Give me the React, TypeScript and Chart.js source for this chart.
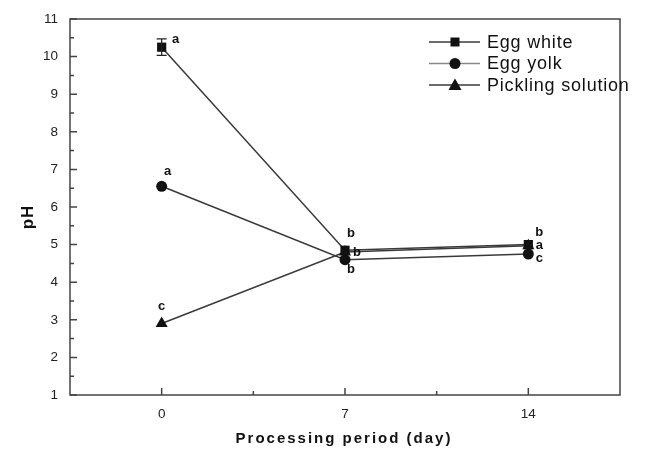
import React, { useEffect, useRef } from "react";
import { Chart, registerables } from "chart.js";

Chart.register(...registerables);

// ---- data ----
const days = [0, 7, 14];
const eggWhite = [10.25, 4.85, 5.0];
const eggWhiteErr = [0.22, 0, 0];
const eggYolk = [6.55, 4.6, 4.75];
const pickling = [2.9, 4.8, 4.97];
const eggWhiteLetters = ["a", "b", "b"];
const eggYolkLetters = ["a", "b", "c"];
const picklingLetters = ["c", "b", "a"];
const seriesNames = ["Egg white", "Egg yolk", "Pickling solution"];
const xTickValues = [0, 7, 14];
const xMinorTickValues = [3.5, 10.5];
const yTickValues = [1, 2, 3, 4, 5, 6, 7, 8, 9, 10, 11];
const yMinorTickValues = [1.5, 2.5, 3.5, 4.5, 5.5, 6.5, 7.5, 8.5, 9.5, 10.5];
const xTitle = "Processing period (day)";
const yTitle = "pH";

const LINE = "#3a3a3a";
const MARK = "#111111";
const FONT = "'Liberation Sans', Arial, sans-serif";

const styles = ["rect", "circle", "triangle"];
const radii = [6.5, 5.5, 7];

// label offsets [dx, dy] per series per point
const letterOffsets = [
  [[14, -8], [6, -17], [11, -12]],
  [[6, -15], [6, 10], [11, 4]],
  [[0, -17], [12, 0], [11, 0]],
];

const decorPlugin = {
  id: "decor",
  afterDatasetsDraw(chart: any) {
    const ctx = chart.ctx;
    const { left, right, top, bottom } = chart.chartArea;
    const xs = chart.scales.x;
    const ys = chart.scales.y;
    ctx.save();
    // frame
    ctx.strokeStyle = "#444";
    ctx.lineWidth = 1.5;
    ctx.strokeRect(left, top, right - left, bottom - top);
    // inward ticks
    ctx.lineWidth = 1.5;
    ctx.beginPath();
    xTickValues.forEach((v) => {
      const px = xs.getPixelForValue(v);
      ctx.moveTo(px, bottom);
      ctx.lineTo(px, bottom - 7);
    });
    xMinorTickValues.forEach((v) => {
      const px = xs.getPixelForValue(v);
      ctx.moveTo(px, bottom);
      ctx.lineTo(px, bottom - 4);
    });
    yTickValues.forEach((v) => {
      const py = ys.getPixelForValue(v);
      ctx.moveTo(left, py);
      ctx.lineTo(left + 7, py);
    });
    yMinorTickValues.forEach((v) => {
      const py = ys.getPixelForValue(v);
      ctx.moveTo(left, py);
      ctx.lineTo(left + 4, py);
    });
    ctx.stroke();

    // error bars
    ctx.strokeStyle = "#222";
    ctx.lineWidth = 1.2;
    ctx.beginPath();
    days.forEach((d, i) => {
      const e = eggWhiteErr[i];
      if (!e) return;
      const px = xs.getPixelForValue(d);
      const y1 = ys.getPixelForValue(eggWhite[i] + e);
      const y2 = ys.getPixelForValue(eggWhite[i] - e);
      ctx.moveTo(px, y1);
      ctx.lineTo(px, y2);
      ctx.moveTo(px - 5, y1);
      ctx.lineTo(px + 5, y1);
      ctx.moveTo(px - 5, y2);
      ctx.lineTo(px + 5, y2);
    });
    ctx.stroke();

    // letters
    const allVals = [eggWhite, eggYolk, pickling];
    const allLetters = [eggWhiteLetters, eggYolkLetters, picklingLetters];
    ctx.fillStyle = "#111";
    ctx.font = `bold 13px ${FONT}`;
    ctx.textAlign = "center";
    ctx.textBaseline = "middle";
    allVals.forEach((vals, s) => {
      vals.forEach((v, i) => {
        const px = xs.getPixelForValue(days[i]);
        const py = ys.getPixelForValue(v);
        const [dx, dy] = letterOffsets[s][i];
        ctx.fillText(allLetters[s][i], px + dx, py + dy);
      });
    });

    // legend
    const legY = [42, 63.5, 85];
    ctx.font = `18px ${FONT}`;
    (ctx as any).letterSpacing = "0.8px";
    ctx.textAlign = "left";
    seriesNames.forEach((name, i) => {
      const y = legY[i];
      ctx.strokeStyle = i === 1 ? "#888" : LINE;
      ctx.lineWidth = 1.5;
      ctx.beginPath();
      ctx.moveTo(429, y);
      ctx.lineTo(480, y);
      ctx.stroke();
      ctx.fillStyle = MARK;
      ctx.beginPath();
      if (i === 0) {
        ctx.rect(455 - 4.5, y - 4.5, 9, 9);
      } else if (i === 1) {
        ctx.arc(455, y, 5.5, 0, Math.PI * 2);
      } else {
        ctx.moveTo(455, y - 6.5);
        ctx.lineTo(455 + 6.5, y + 5);
        ctx.lineTo(455 - 6.5, y + 5);
        ctx.closePath();
      }
      ctx.fill();
      ctx.fillStyle = "#111";
      ctx.fillText(name, 487, y + 1);
    });

    // axis titles
    ctx.fillStyle = "#111";
    ctx.font = `bold 15px ${FONT}`;
    (ctx as any).letterSpacing = "2px";
    ctx.textAlign = "center";
    ctx.fillText(xTitle, (left + right) / 2 - 1, 439);
    ctx.save();
    ctx.translate(28, 217);
    ctx.rotate(-Math.PI / 2);
    ctx.font = `bold 17px ${FONT}`;
    (ctx as any).letterSpacing = "1px";
    ctx.fillText(yTitle, 0, 0);
    ctx.restore();
    ctx.restore();
  },
};

export default function App() {
  const ref = useRef<HTMLCanvasElement | null>(null);
  useEffect(() => {
    if (!ref.current) return;
    const vals = [eggWhite, eggYolk, pickling];
    const chart = new Chart(ref.current, {
      type: "line",
      data: {
        datasets: vals.map((v, s) => ({
          label: seriesNames[s],
          data: days.map((d, i) => ({ x: d, y: v[i] })),
          borderColor: LINE,
          borderWidth: 1.5,
          backgroundColor: MARK,
          pointBackgroundColor: MARK,
          pointBorderColor: MARK,
          pointBorderWidth: 0,
          pointStyle: styles[s] as any,
          pointRadius: radii[s],
          pointHoverRadius: radii[s],
          tension: 0,
          fill: false,
        })),
      },
      options: {
        animation: false,
        responsive: false,
        maintainAspectRatio: false,
        layout: { padding: { top: 19, right: 27, left: 0, bottom: 0 } },
        plugins: {
          legend: { display: false },
          tooltip: { enabled: false },
        },
        scales: {
          x: {
            type: "linear",
            min: -3.5,
            max: 17.5,
            grid: { display: false },
            border: { display: false },
            afterBuildTicks: (s: any) => {
              s.ticks = xTickValues.map((v) => ({ value: v }));
            },
            afterFit: (s: any) => {
              s.height = 56;
            },
            ticks: {
              padding: 3,
              color: "#222",
              font: { family: FONT, size: 13.5 },
              maxRotation: 0,
            },
          },
          y: {
            type: "linear",
            min: 1,
            max: 11,
            grid: { display: false },
            border: { display: false },
            afterBuildTicks: (s: any) => {
              s.ticks = yTickValues.map((v) => ({ value: v }));
            },
            afterFit: (s: any) => {
              s.width = 70;
            },
            ticks: {
              padding: 4,
              color: "#222",
              font: { family: FONT, size: 13.5 },
            },
          },
        },
      },
      plugins: [decorPlugin],
    });
    return () => chart.destroy();
  }, []);
  return (
    <div style={{ position: "absolute", left: 0, top: 0, width: 647, height: 451, background: "#fff" }}>
      <canvas ref={ref} width={647} height={451} style={{ display: "block" }} />
    </div>
  );
}
